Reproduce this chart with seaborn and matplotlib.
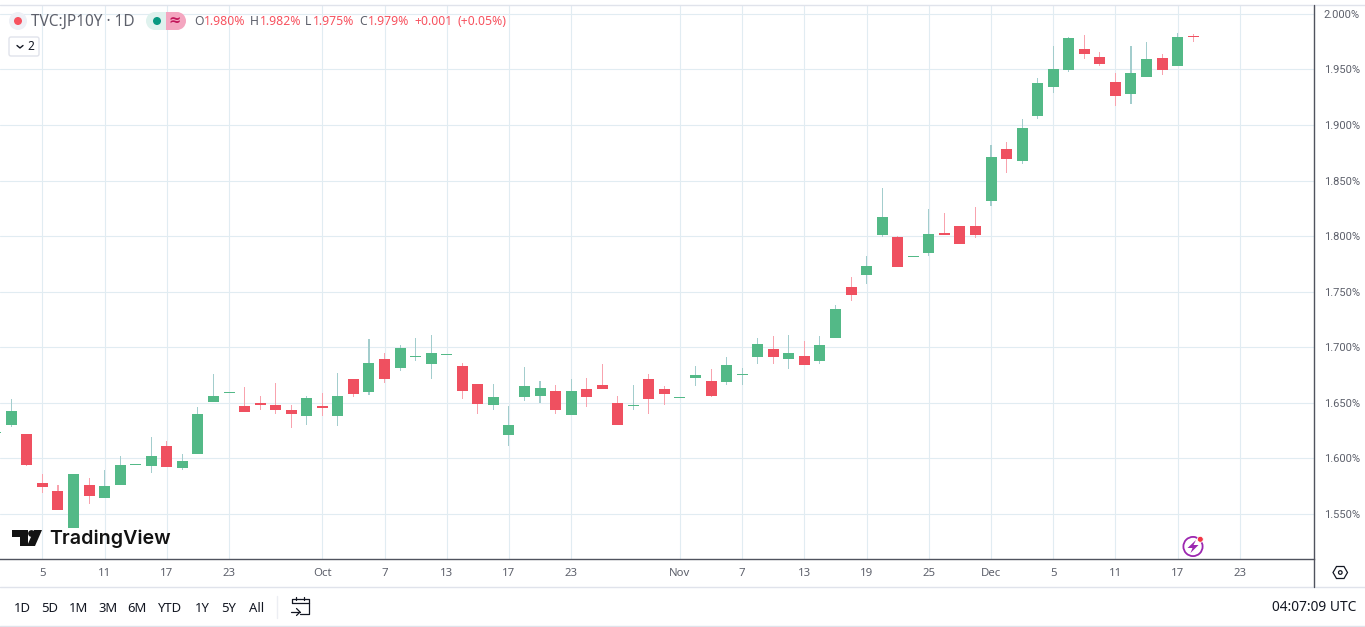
import numpy as np
import pandas as pd
import seaborn as sns
import matplotlib.pyplot as plt
from matplotlib.patches import Circle, FancyBboxPatch, Polygon, Rectangle, Wedge

# -----------------------------
# Data, session index starts one bar left of the frame
# -----------------------------
opens = [1.623, 1.630, 1.622, 1.578, 1.571, 1.537, 1.576, 1.564, 1.576, 1.594, 1.593, 1.611, 1.591,
         1.604, 1.651, 1.659, 1.647, 1.650, 1.648, 1.644, 1.638, 1.647, 1.638, 1.671, 1.660, 1.689,
         1.681, 1.691, 1.685, 1.693, 1.683, 1.667, 1.648, 1.621, 1.655, 1.656, 1.661, 1.639, 1.662,
         1.666, 1.650, 1.647, 1.671, 1.662, 1.654, 1.672, 1.670, 1.669, 1.675, 1.691, 1.698, 1.689,
         1.692, 1.688, 1.708, 1.754, 1.765, 1.801, 1.799, 1.781, 1.785, 1.803, 1.809, 1.809, 1.832,
         1.878, 1.868, 1.908, 1.934, 1.949, 1.968, 1.961, 1.939, 1.928, 1.943, 1.960, 1.953, 1.980]
highs = [1.623, 1.653, 1.622, 1.586, 1.576, 1.586, 1.582, 1.590, 1.602, 1.594, 1.619, 1.616, 1.604,
         1.646, 1.676, 1.659, 1.664, 1.656, 1.668, 1.648, 1.656, 1.659, 1.677, 1.671, 1.707, 1.695,
         1.702, 1.708, 1.711, 1.693, 1.686, 1.667, 1.667, 1.647, 1.682, 1.670, 1.666, 1.671, 1.672,
         1.685, 1.656, 1.666, 1.676, 1.665, 1.654, 1.683, 1.680, 1.691, 1.681, 1.708, 1.710, 1.711,
         1.706, 1.710, 1.738, 1.763, 1.782, 1.843, 1.800, 1.781, 1.824, 1.821, 1.809, 1.826, 1.882,
         1.885, 1.905, 1.942, 1.971, 1.979, 1.981, 1.966, 1.947, 1.971, 1.975, 1.964, 1.983, 1.982]
lows = [1.623, 1.628, 1.593, 1.569, 1.554, 1.537, 1.559, 1.564, 1.576, 1.594, 1.587, 1.592, 1.590,
        1.604, 1.651, 1.659, 1.642, 1.644, 1.640, 1.627, 1.630, 1.638, 1.629, 1.655, 1.657, 1.668,
        1.679, 1.688, 1.671, 1.693, 1.653, 1.640, 1.644, 1.611, 1.652, 1.650, 1.640, 1.639, 1.646,
        1.662, 1.630, 1.644, 1.640, 1.648, 1.654, 1.665, 1.655, 1.666, 1.666, 1.685, 1.685, 1.680,
        1.684, 1.685, 1.708, 1.742, 1.757, 1.799, 1.772, 1.781, 1.782, 1.801, 1.793, 1.798, 1.827,
        1.857, 1.865, 1.905, 1.929, 1.948, 1.959, 1.953, 1.917, 1.919, 1.943, 1.945, 1.953, 1.975]
closes = [1.623, 1.643, 1.594, 1.574, 1.554, 1.586, 1.566, 1.575, 1.594, 1.594, 1.602, 1.592, 1.598,
          1.640, 1.656, 1.659, 1.642, 1.648, 1.644, 1.640, 1.654, 1.645, 1.656, 1.658, 1.686, 1.671,
          1.699, 1.691, 1.695, 1.693, 1.661, 1.649, 1.655, 1.630, 1.665, 1.663, 1.644, 1.661, 1.655,
          1.662, 1.630, 1.647, 1.653, 1.658, 1.654, 1.675, 1.656, 1.684, 1.675, 1.703, 1.691, 1.695,
          1.684, 1.702, 1.734, 1.747, 1.773, 1.817, 1.772, 1.781, 1.802, 1.801, 1.793, 1.801, 1.871,
          1.869, 1.897, 1.938, 1.950, 1.978, 1.964, 1.955, 1.926, 1.947, 1.959, 1.949, 1.979, 1.979]

date_tick_idx = [2, 6, 10, 14, 20, 24, 28, 32, 36, 43, 47, 51, 55, 59, 63, 67, 71, 75, 79]
date_tick_labels = ["5", "11", "17", "23", "Oct", "7", "13", "17", "23", "Nov", "7", "13", "19",
                    "25", "Dec", "5", "11", "17", "23"]
price_ticks = [1.55, 1.60, 1.65, 1.70, 1.75, 1.80, 1.85, 1.90, 1.95, 2.00]
range_buttons = ["1D", "5D", "1M", "3M", "6M", "YTD", "1Y", "5Y", "All"]
range_button_x = [22, 50, 79, 108, 137, 170, 202, 229, 257]

# -----------------------------
# Style
# -----------------------------
UP = "#53b987"
DOWN = "#ef5060"
UP_WICK = "#a3cdcd"
DOWN_WICK = "#f8a3ae"
GRID = "#e1ecf2"
AXIS = "#50535e"
LABEL = "#5d606b"
DARK = "#131722"
FONT = "Noto Sans"

sns.set_theme(style="white")
plt.rcParams["font.family"] = [FONT, "DejaVu Sans"]

W, H = 1365, 627
fig = plt.figure(figsize=(W / 100, H / 100), dpi=100, facecolor="white")
ax = fig.add_axes([0, 1 - 559 / H, 1314 / W, (559 - 4.5) / H])

df = pd.DataFrame({"i": np.arange(-1, len(opens) - 1), "o": opens, "h": highs, "l": lows, "c": closes})
df["up"] = df["c"] >= df["o"]
df["body_low"] = df[["o", "c"]].min(axis=1)
# one pixel is 0.0009 on this scale; flat sessions still show as a line
df["body_h"] = (df["o"] - df["c"]).abs().clip(lower=0.0008)
df["wick_h"] = df["h"] - df["l"]

for flag, body_col, wick_col in [(True, UP, UP_WICK), (False, DOWN, DOWN_WICK)]:
    part = df[df["up"] == flag]
    sns.barplot(data=part, x="i", y="wick_h", bottom=part["l"].to_numpy(), native_scale=True,
                width=0.07, color=wick_col, saturation=1, errorbar=None, linewidth=0, ax=ax)
    sns.barplot(data=part, x="i", y="body_h", bottom=part["body_low"].to_numpy(), native_scale=True,
                width=0.707, color=body_col, saturation=1, errorbar=None, linewidth=0, ax=ax)

ax.set_xlim(-0.727, 83.77)
ax.set_ylim(1.5095, 2.00837)
ax.set_xlabel("")
ax.set_ylabel("")
ax.set_xticks(date_tick_idx, date_tick_labels)
ax.set_yticks(price_ticks, [f"{p:.3f}%" for p in price_ticks])
ax.yaxis.tick_right()
ax.tick_params(axis="both", length=0, labelsize=8.2, labelcolor=LABEL)
ax.tick_params(axis="x", pad=6.7)
ax.tick_params(axis="y", pad=7)
for lab in ax.get_yticklabels():
    lab.set_family("Roboto")
    lab.set_fontsize(8)
ax.set_axisbelow(True)
ax.grid(True, color=GRID, linewidth=0.8)
for s in ["top", "left", "right"]:
    ax.spines[s].set_visible(False)
ax.spines["bottom"].set_color(AXIS)
ax.spines["bottom"].set_linewidth(1)

# -----------------------------
# Overlay in pixel coordinates: header, logo, toolbar
# -----------------------------
ov = fig.add_axes([0, 0, 1, 1], facecolor="none")
ov.set_xlim(0, W)
ov.set_ylim(H, 0)
ov.axis("off")

# frame lines
ov.plot([0, W], [4.5, 4.5], color="#e0e3eb", lw=1)
ov.plot([0, W], [587, 587], color="#e0e3eb", lw=1)
ov.plot([0, W], [626, 626], color="#e0e3eb", lw=1)
ov.plot([1314, 1314], [5, 587], color=AXIS, lw=1)
ov.plot([276.5, 276.5], [596, 618], color="#eceef3", lw=1)

# legend line
ov.add_patch(Circle((18, 21), 9, fc="#eef0f6", ec="none"))
ov.add_patch(Circle((18, 21), 4, fc="#f7525f", ec="none"))
ov.text(31, 21.8, "TVC:JP10Y · 1D", fontsize=11.1, color=LABEL, va="center", ha="left")
ov.add_patch(Wedge((155, 21), 9, 90, 270, fc="#dff2ee", ec="none"))
ov.add_patch(Rectangle((155, 12), 11, 18, fc="#dff2ee", ec="none"))
ov.add_patch(Rectangle((166, 12), 11, 18, fc="#f4a6c0", ec="none"))
ov.add_patch(Wedge((177, 21), 9, -90, 90, fc="#f4a6c0", ec="none"))
ov.add_patch(Circle((157, 21), 4, fc="#089981", ec="none"))
ov.text(175, 21, "≈", fontsize=10.5, color="#c2185b", va="center", ha="center", fontweight="bold")

legend_parts = [("O", 194, LABEL), ("1.980%", 204, "#f7525f"), ("H", 250, LABEL), ("1.982%", 260, "#f7525f"),
                ("L", 305, LABEL), ("1.975%", 313, "#f7525f"), ("C", 359, LABEL), ("1.979%", 368, "#f7525f"),
                ("+0.001", 414, "#f7525f"), ("(+0.05%)", 457, "#f7525f")]
for txt, px, col in legend_parts:
    ov.text(px, 21.8, txt, fontsize=8.8, color=col, va="center", ha="left")

# collapsed indicators button
ov.add_patch(FancyBboxPatch((9, 37), 30, 19, boxstyle="round,pad=0,rounding_size=2",
                            fc="white", ec="#e0e3eb", lw=1))
ov.plot([17, 20, 23], [45.5, 48, 45.5], color=DARK, lw=1)
ov.text(31, 46.5, "2", fontsize=8.6, color=DARK, va="center", ha="center")

# TradingView mark
ov.add_patch(Polygon([[12, 530], [28, 530], [28, 546], [20, 546], [20, 537], [12, 537]], fc="#131313", ec="none"))
ov.add_patch(Circle((31.5, 533.5), 3.4, fc="#131313", ec="none"))
ov.add_patch(Polygon([[34, 530], [42, 530], [35, 546], [27, 546]], fc="#131313", ec="none"))
ov.text(49, 538.5, "TradingView", fontsize=14.15, color="#131313", va="center", ha="left",
        family="Inter", fontweight="semibold")

# lightning badge
ov.add_patch(Circle((1193, 546.5), 9.6, fc="none", ec="#9c27b0", lw=1.3))
ov.add_patch(Polygon([[1196, 540], [1187.5, 548], [1192.5, 548], [1190.5, 553], [1198.5, 545], [1193.5, 545]],
                     fc="#9c27b0", ec="none"))
ov.add_patch(Circle((1200.3, 539.3), 3, fc="#f23645", ec="white", lw=0.6))

# settings hexagon
ov.add_patch(Polygon([[1333, 572.5], [1336.5, 566.5], [1344, 566.5], [1347.5, 572.5], [1344, 578.5], [1336.5, 578.5]],
                     fc="none", ec=DARK, lw=0.9))
ov.add_patch(Circle((1340.3, 572.5), 1.8, fc="none", ec=DARK, lw=0.9))

# bottom toolbar
for name, px in zip(range_buttons, range_button_x):
    ov.text(px, 608, name, fontsize=9.4, color=DARK, va="center", ha="center")
ov.text(1356, 607.8, "04:07:09 UTC", fontsize=9.9, color=DARK, va="center", ha="right")

# date range icon
ov.plot([300, 292, 292], [599, 599, 603], color=DARK, lw=0.9)
ov.plot([292, 309, 309, 300], [603, 603, 614, 614], color=DARK, lw=0.9)
ov.plot([300, 309, 309], [599, 599, 603], color=DARK, lw=0.9)
ov.plot([296, 296], [597, 600], color=DARK, lw=0.9)
ov.plot([304, 304], [597, 600], color=DARK, lw=0.9)
ov.plot([291, 300], [612, 612], color=DARK, lw=0.9)
ov.plot([296.5, 300, 296.5], [608.5, 612, 615.5], color=DARK, lw=0.9)

fig.savefig("out.png", dpi=100)
